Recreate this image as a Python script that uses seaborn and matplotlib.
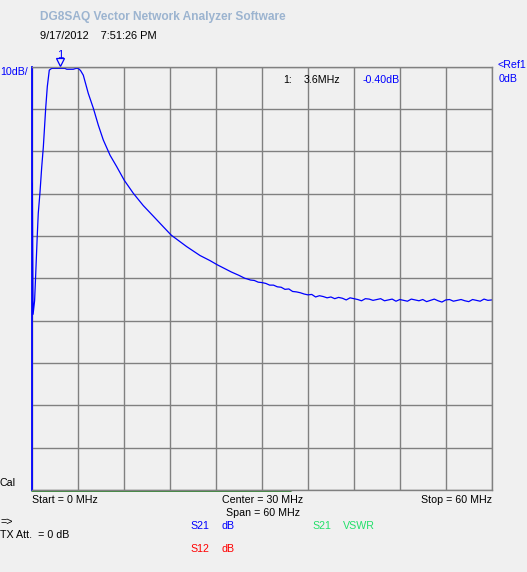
import numpy as np
import pandas as pd
import matplotlib
matplotlib.use('Agg')
import matplotlib.pyplot as plt
import seaborn as sns

# S21 sweep (MHz, dB)
freq_mhz = [0.0, 0.1, 0.3, 0.45, 0.65, 0.78, 1.0, 1.23, 1.44, 1.75, 1.96, 2.22,
            2.53, 3.0, 3.6, 4.27, 4.5, 5.35, 5.7, 6.0, 6.3, 6.66, 7.31, 7.97,
            8.62, 9.27, 10.15, 11.02, 12.0, 13.19, 14.49, 15.8, 17.1, 18.15,
            20.16, 21.9, 23.2, 24.16, 26.0, 27.0, 27.77,
            28.0, 28.5, 29.0, 29.5, 30.0, 30.5, 31.0, 31.5, 32.0, 32.5, 33.0,
            33.5, 34.0, 34.5, 35.0, 35.5, 36.0, 36.5, 37.0, 37.5, 38.0, 38.5,
            39.0, 39.5, 40.0, 40.5, 41.0, 41.5, 42.0, 42.5, 43.0, 43.5, 44.0,
            44.5, 45.0, 45.5, 46.0, 46.5, 47.0, 47.5, 48.0, 48.5, 49.0, 49.5,
            50.0, 50.5, 51.0, 51.5, 52.0, 52.5, 53.0, 53.5, 54.0, 54.5, 55.0,
            55.5, 56.0, 56.5, 57.0, 57.5, 58.0, 58.5, 59.0, 59.5, 60.0]
s21_db = [-27.5, -58.5, -55.3, -48.8, -39.8, -34.6, -29.8, -23.7, -19.0, -9.8, -4.7, -0.8,
          -0.4, -0.4, -0.4, -0.4, -0.6, -0.6, -0.4, -0.4, -0.9, -2.0, -6.3, -9.8,
          -13.8, -17.3, -20.9, -23.6, -26.8, -29.9, -32.8, -35.3, -37.8, -39.8,
          -42.5, -44.6, -45.8, -46.8, -48.5, -49.3, -50.0,
          -50.1, -50.4, -50.5, -50.9, -51.0, -51.2, -51.6, -51.6, -52.0, -52.1, -52.6,
          -52.5, -53.1, -53.2, -53.4, -53.7, -53.9, -53.8, -54.4, -54.1, -54.3, -54.6,
          -54.4, -54.8, -54.5, -54.7, -55.1, -54.6, -54.8, -55.0, -55.3, -54.8, -54.9,
          -55.2, -55.0, -54.8, -55.3, -55.1, -54.9, -55.4, -55.0, -55.2, -55.4, -54.9,
          -55.1, -55.3, -55.0, -55.5, -55.2, -54.9, -55.3, -55.6, -55.1, -55.0, -55.4,
          -55.2, -55.0, -55.3, -55.5, -55.0, -55.2, -55.4, -54.9, -55.2, -55.1]

marker_freq = 3.6
marker_db = -0.40
start_mhz, stop_mhz = 0, 60
ref_db, db_per_div = 0, 10
sweep_done_mhz = 33.8

df = pd.DataFrame({'freq': freq_mhz, 'db': s21_db})

W, H = 527, 572
BG = '#f0f0f0'
GRID = '#808080'
BLUE = '#0000ff'

sns.set_style('white')
plt.rcParams['font.family'] = ['Liberation Sans', 'DejaVu Sans']

fig = plt.figure(figsize=(W / 100, H / 100), dpi=100, facecolor=BG)
# plot area in pixels: x 32..492, y 66.7..490
ax = fig.add_axes([32.3 / W, 1 - 490 / H, 459.4 / W, 423.3 / H], facecolor=BG)

sns.lineplot(data=df, x='freq', y='db', ax=ax, color=BLUE, lw=0.9, estimator=None, sort=False)

ax.set_xlim(start_mhz, stop_mhz)
ax.set_ylim(ref_db - 10 * db_per_div, ref_db)
ax.set_xticks(np.linspace(start_mhz, stop_mhz, 11))
ax.set_yticks(np.linspace(ref_db - 10 * db_per_div, ref_db, 11))
ax.set_xticklabels([])
ax.set_yticklabels([])
ax.tick_params(length=0)
ax.set_xlabel('')
ax.set_ylabel('')
ax.grid(True, color=GRID, lw=1.0)
ax.set_axisbelow(True)
for side in ['top', 'right', 'bottom']:
    ax.spines[side].set_color(GRID)
    ax.spines[side].set_linewidth(1.0)
ax.spines['left'].set_color(BLUE)
ax.spines['left'].set_linewidth(1.3)

# sweep progress bar under the grid
ax.plot([start_mhz, sweep_done_mhz], [ref_db - 10 * db_per_div - 0.35] * 2,
        color='#1a7a1a', lw=1.2, clip_on=False)

# marker 1
ax.plot([marker_freq], [ref_db + 1.0], marker='v', ms=6, mfc='none', mec=BLUE,
        mew=0.9, clip_on=False)
ax.text(marker_freq, ref_db + 2.7, '1', color=BLUE, fontsize=8, ha='center', va='center',
        clip_on=False)


def txt(x, y, s, color='black', ha='left', size=7.7, **kw):
    fig.text(x / W, 1 - y / H, s, color=color, ha=ha, va='center', fontsize=size, **kw)


txt(40, 17, 'DG8SAQ Vector Network Analyzer Software', color='#9cb4d0', size=8.6,
    fontweight='bold')
txt(40, 36, '9/17/2012    7:51:26 PM', size=7.9)
txt(0, 72, '10dB/', color=BLUE)
txt(283, 80, '1:')
txt(304, 80, f'{marker_freq}MHz')
txt(363, 80, f'{marker_db:.2f}dB', color=BLUE)
txt(497, 65, '<Ref1', color=BLUE)
txt(499, 79, f'{ref_db}dB', color=BLUE)
txt(0, 483, 'Cal')
txt(32, 500, f'Start = {start_mhz} MHz')
txt(222, 500, f'Center = {(start_mhz + stop_mhz) // 2} MHz')
txt(492, 500, f'Stop = {stop_mhz} MHz', ha='right')
txt(225.5, 513, f'Span = {stop_mhz - start_mhz} MHz')
txt(0, 522, '=>')
txt(0, 535, 'TX Att.  = 0 dB')
txt(190, 526, 'S21', color=BLUE)
txt(221.7, 526, 'dB', color=BLUE)
txt(312, 526, 'S21', color='#22e06a')
txt(343, 526, 'VSWR', color='#22e06a')
txt(190, 549, 'S12', color='#ff0000')
txt(221.7, 549, 'dB', color='#ff0000')

fig.savefig('out.png', dpi=100, facecolor=BG)
